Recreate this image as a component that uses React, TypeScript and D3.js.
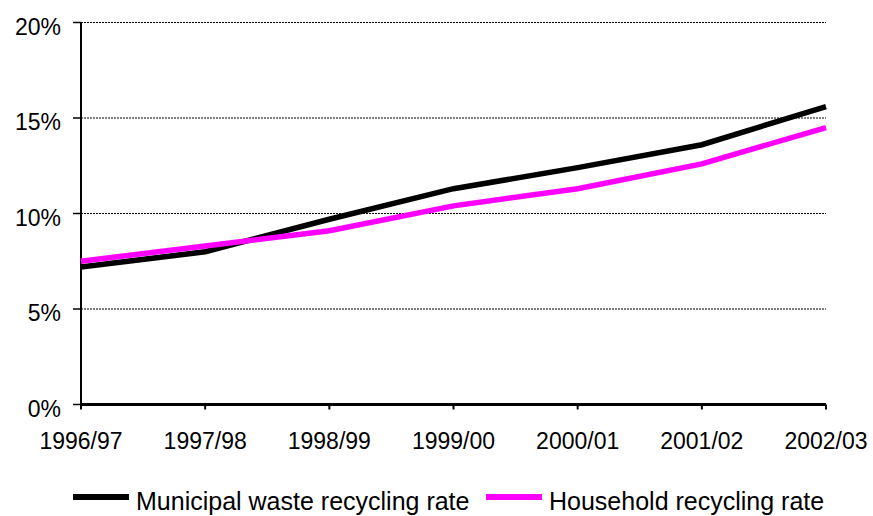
import React from "react";
import * as d3 from "d3";

const categories = ["1996/97", "1997/98", "1998/99", "1999/00", "2000/01", "2001/02", "2002/03"];
const municipal = [7.2, 8.0, 9.7, 11.3, 12.4, 13.6, 15.6];
const household = [7.5, 8.3, 9.1, 10.4, 11.3, 12.6, 14.5];
const yTicks = [0, 5, 10, 15, 20];
const seriesNames = ["Municipal waste recycling rate", "Household recycling rate"];
const seriesColors = ["#000000", "#ff00ff"];

export default function App() {
  const W = 873, H = 516;
  const left = 81, right = 826, top = 22.5, bottom = 404.5;
  const x = d3.scalePoint<string>().domain(categories).range([left, right]);
  const y = d3.scaleLinear().domain([0, 20]).range([bottom, top]);
  const line = d3.line<number>().x((_, i) => x(categories[i])!).y((d) => y(d));
  const font = "'Liberation Sans', Arial, Helvetica, sans-serif";
  const series = [municipal, household];
  const legendX = [73, 486];
  return (
    <svg width={W} height={H} style={{ position: "absolute", left: 0, top: 0, fontFamily: font }}>
      <rect width={W} height={H} fill="#fff" />
      {yTicks.filter((t) => t > 0).map((t) => (
        <line key={t} x1={left} x2={right} y1={y(t)} y2={y(t)} stroke="#000" strokeWidth={1} strokeDasharray="2,1" />
      ))}
      {yTicks.map((t) => (
        <g key={"yt" + t}>
          <line x1={left - 8} x2={left} y1={y(t)} y2={y(t)} stroke="#000" strokeWidth={1.5} />
          <text x={61} y={y(t) + 12} textAnchor="end" fontSize={23} fill="#000">{t}%</text>
        </g>
      ))}
      <line x1={left} x2={left} y1={top} y2={bottom} stroke="#000" strokeWidth={2} />
      {categories.map((c) => (
        <g key={c}>
          <line x1={x(c)} x2={x(c)} y1={bottom} y2={bottom + 5} stroke="#000" strokeWidth={2} />
          <text x={x(c)} y={449} textAnchor="middle" fontSize={23} fill="#000">{c}</text>
        </g>
      ))}
      <line x1={left} x2={right} y1={bottom} y2={bottom} stroke="#000" strokeWidth={3} />
      {series.map((s, i) => (
        <path key={i} d={line(s)!} fill="none" stroke={seriesColors[i]} strokeWidth={5.5} strokeLinejoin="miter" />
      ))}
      {seriesNames.map((n, i) => (
        <g key={n}>
          <line x1={legendX[i]} x2={legendX[i] + 56} y1={497} y2={497} stroke={seriesColors[i]} strokeWidth={6} />
          <text x={legendX[i] + 63} y={510} fontSize={25} fill="#000">{n}</text>
        </g>
      ))}
    </svg>
  );
}
